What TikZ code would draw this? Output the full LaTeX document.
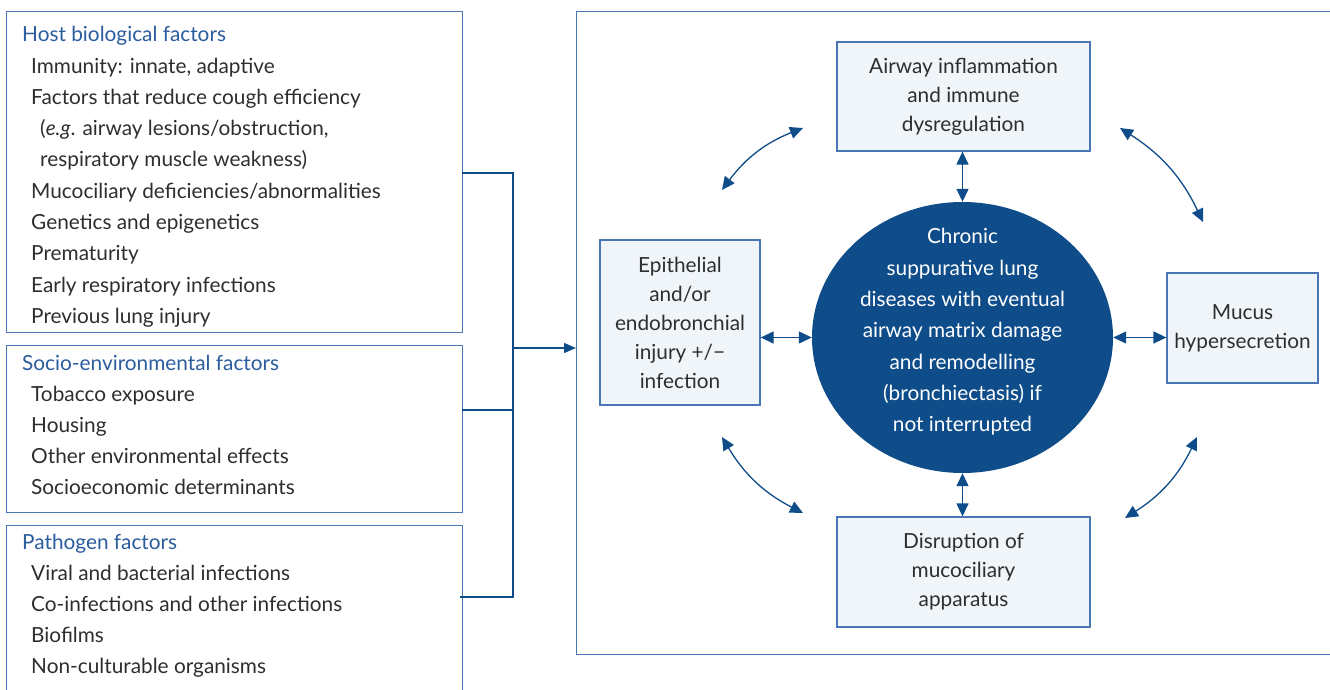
\documentclass[tikz,border=0pt]{standalone}
\usepackage{fontspec}
\setmainfont{Lato}
\usepackage{tikz}
\usetikzlibrary{arrows.meta}
\usetikzlibrary{shapes}
\usetikzlibrary{calc}
\usetikzlibrary{positioning}
\definecolor{hubblue}{HTML}{0F4C8A}
\definecolor{boxline}{HTML}{4A76B6}
\definecolor{headblue}{HTML}{2A5C9E}
\definecolor{inktext}{HTML}{2E2E2E}
\definecolor{stagefill}{HTML}{F0F5FA}
\newcommand{\listfont}{\fontsize{20.8}{31.3}\selectfont}
\newcommand{\stagefont}{\fontsize{20.8}{29}\selectfont}
\newcommand{\hubfont}{\fontsize{20.8}{31.3}\selectfont}
\tikzstyle{factorbox} = [
    draw=boxline,
    line width=1.3pt,
    inner sep=0pt,
    anchor=north west
]
\tikzstyle{head}  = [
    anchor=base west,
    inner sep=0pt,
    font=\listfont,
    text=headblue
]
\tikzstyle{items}  = [
    anchor=base west,
    align=left,
    inner sep=0pt,
    font=\listfont,
    text=inktext
]
\tikzstyle{stage}  = [
    shape=rectangle,
    draw=boxline,
    fill=stagefill,
    line width=1.3pt,
    align=center,
    inner sep=0pt,
    font=\stagefont,
    text=inktext
]
\tikzstyle{hub}  = [
    shape=ellipse,
    fill=hubblue,
    inner sep=0pt,
    minimum width=301pt,
    minimum height=271pt
]
\tikzstyle{link}  = [
    draw=hubblue,
    line width=1.3pt
]
\tikzstyle{feed}  = [
    link,
    -{Triangle[length=12pt,width=10pt]}
]
\tikzstyle{twoway}  = [
    link,
    {Triangle[length=13pt,width=12pt]}-{Triangle[length=13pt,width=12pt]}
]

\begin{document}
\begin{tikzpicture}[x=1pt, y=1pt]
\useasboundingbox (0,0) rectangle (1330,-690);

% factor boxes on the left
\node[factorbox, minimum width=456pt, minimum height=321pt] (host) at (6,-11)  {};
\node[factorbox, minimum width=456pt, minimum height=167pt] (socio) at (6,-345) {};
\node[factorbox, minimum width=456pt, minimum height=180pt] (patho) at (6,-525) {};

% lists are placed by the baseline of their last line
\node[head] (hosthead) at (22,-42) {Host biological factors};
\node[items] (hostlist) at (31,-323.4) {Immunity: innate, adaptive\\
    Factors that reduce cough efficiency\\
    \hspace*{9pt}(\textit{e.g}. airway lesions/obstruction,\\
    \hspace*{9pt}respiratory muscle weakness)\\
    Mucociliary deficiencies/abnormalities\\
    Genetics and epigenetics\\
    Prematurity\\
    Early respiratory infections\\
    Previous lung injury};
\node[head] (sociohead) at (22,-370) {Socio-environmental factors};
\node[items] (sociolist) at (31,-494.9) {Tobacco exposure\\
    Housing\\
    Other environmental effects\\
    Socioeconomic determinants};
\node[head] (pathohead) at (22,-549) {Pathogen factors};
\node[items] (patholist) at (31,-673.9) {Viral and bacterial infections\\
    Co-infections and other infections\\
    Biofilms\\
    Non-culturable organisms};

% outer frame on the right
\node[factorbox, minimum width=760pt, minimum height=643pt] (frame) at (576,-11) {};

% joining bracket
\coordinate (hostout)  at (462,-173);
\coordinate (socioout) at (462,-410);
\coordinate (pathout)  at (460,-597);
\coordinate (bus)      at (513,-348);
\draw[link] (hostout) -- (hostout -| bus) -- (pathout -| bus) -- (pathout);
\draw[link] (socioout) -- (socioout -| bus);
\draw[feed] (bus) -- (bus -| frame.west);

% central disease and its stages
\node[hub] (core) at (962.5,-337.5) {};
\node[align=center, text=white, font=\hubfont, inner sep=0pt] (coretext) at (962.5,-332)
    {Chronic\\ suppurative lung\\ diseases with eventual\\ airway matrix damage\\ and remodelling\\ (bronchiectasis) if\\ not interrupted};

\node[stage, minimum width=253pt, minimum height=109pt] (inflam) at (963.5,-96.5)
    {Airway inflammation\\ and immune\\ dysregulation};
\node[stage, minimum width=160pt, minimum height=165pt] (injury) at (680,-322.5)
    {Epithelial\\ and/or\\ endobronchial\\ injury +/\textminus\\ infection};
\node[stage, minimum width=151pt, minimum height=110pt] (mucus) at (1242.5,-328)
    {Mucus\\ hypersecretion};
\node[stage, minimum width=253pt, minimum height=110pt] (disrupt) at (963.5,-572)
    {Disruption of\\ mucociliary\\ apparatus};

\draw[twoway] (inflam.south -| core.north) -- (core.north);
\draw[twoway] (core.south) -- (core.south |- disrupt.north);
\draw[twoway] (injury.east |- core.west) -- (core.west);
\draw[twoway] (core.east) -- (core.east -| mucus.west);

% cycle arcs
\coordinate (tlA) at (722,-190);
\coordinate (tlB) at (803,-128);
\coordinate (trA) at (1120,-128);
\coordinate (trB) at (1203,-222);
\coordinate (brA) at (1197,-437);
\coordinate (brB) at (1125,-518);
\coordinate (blA) at (803,-513);
\coordinate (blB) at (722,-437);
\draw[twoway, bend left=16] (tlA) to (tlB);
\draw[twoway, bend left=16] (trA) to (trB);
\draw[twoway, bend left=16] (brA) to (brB);
\draw[twoway, bend left=16] (blA) to (blB);

\end{tikzpicture}
\end{document}
